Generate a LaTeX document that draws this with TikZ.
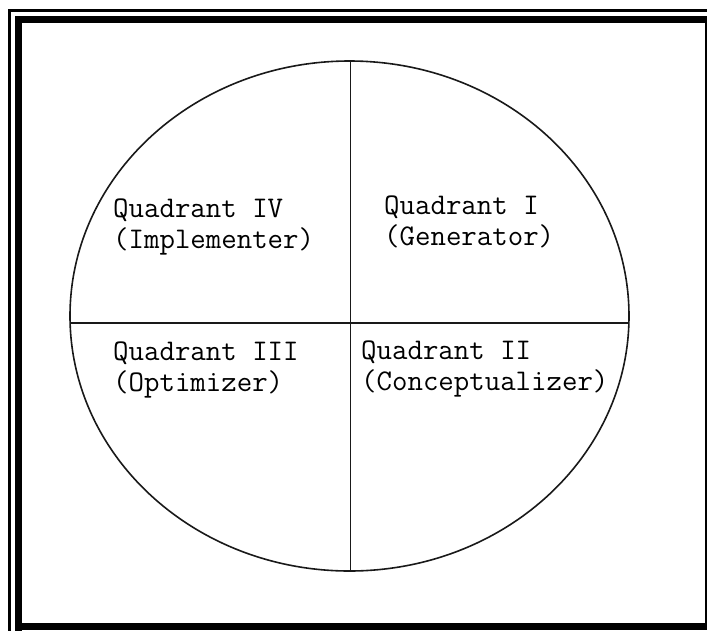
\documentclass[tikz,border=0pt]{standalone}
\usepackage{fontspec}
\usetikzlibrary{positioning,calc}
\tikzset{
  frame/.style      = {line width=7pt, line cap=rect},
  rule/.style       = {line width=3pt, line cap=rect},
  edge/.style       = {line width=1.6pt, draw=black!90},
  quad/.style       = {anchor=base west, inner sep=0pt, align=left,
                       font=\fontsize{30}{31}\selectfont\ttfamily},
}
\begin{document}
\begin{tikzpicture}[x=1pt,y=-1pt]
  \useasboundingbox (0,0) rectangle (707,630);
  % double frame round the page
  \draw[rule] (9.5,630) -- (9.5,10.5) -- (707,10.5);
  \draw[frame] (18.5,630) -- (18.5,19.5) -- (706,19.5);
  \draw[frame] (18.5,626.5) -- (707,626.5);
  \draw[line width=1.2pt] (706,19.5) -- (706,626.5);
  % the circle and its two axes
  \coordinate (c) at (349.5,316);
  \draw[edge] (c) ellipse [x radius=279.5, y radius=255];
  \coordinate (top) at (350.5,61);
  \coordinate (bot) at (350.5,571);
  \coordinate (lft) at (70,323);
  \coordinate (rgt) at (629,323);
  \draw[edge] (top) -- (bot);
  \draw[edge] (lft) -- (rgt);
  % quadrant labels (base is the second line)
  \node[quad] (q4) at (113,248) {Quadrant IV\\(Implementer)};
  \node[quad] (q1) at (384,245) {Quadrant I\\(Generator)};
  \node[quad] (q3) at (113,391) {Quadrant III\\(Optimizer)};
  \node[quad] (q2) at (361,390) {Quadrant II\\(Conceptualizer)};
\end{tikzpicture}
\end{document}
